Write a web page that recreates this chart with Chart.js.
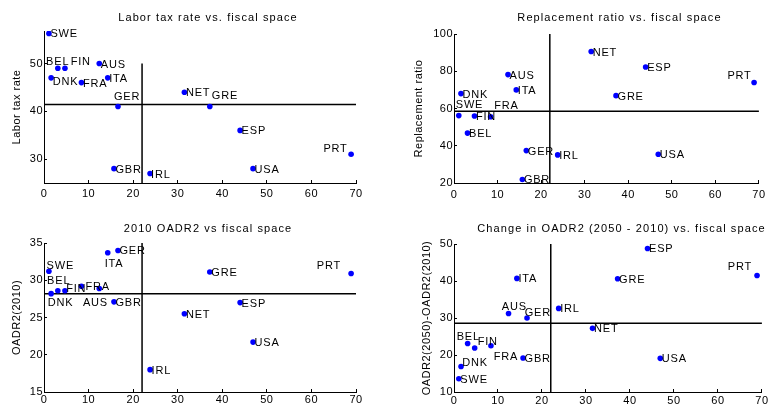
<!DOCTYPE html>
<html>
<head>
<meta charset="utf-8">
<script src="https://cdn.jsdelivr.net/npm/chart.js@4.4.0/dist/chart.umd.min.js"></script>
<style>
  body { margin: 0; background: #fff; }
  .wrap { position: relative; width: 773px; height: 409px; }
  canvas { position: absolute; }
</style>
</head>
<body>
<div class="wrap">
  <canvas id="c1" width="386" height="205" style="left:0;top:0"></canvas>
  <canvas id="c2" width="387" height="205" style="left:386px;top:0"></canvas>
  <canvas id="c3" width="386" height="204" style="left:0;top:205px"></canvas>
  <canvas id="c4" width="387" height="204" style="left:386px;top:205px"></canvas>
</div>
<script>
// data
const countries   = ['SWE', 'BEL', 'FIN', 'AUS', 'DNK', 'FRA', 'ITA', 'GER', 'NET', 'GRE', 'ESP', 'PRT', 'GBR', 'IRL', 'USA'];
const fiscalSpace = [1.1, 3.1, 4.7, 12.4, 1.6, 8.4, 14.3, 16.6, 31.5, 37.2, 44.0, 68.9, 15.7, 23.8, 46.9];
const laborTax    = [56.3, 49, 49, 50, 47, 46, 47, 41, 44, 41, 36, 31, 28, 27, 28];
const replacement = [56.2, 46.8, 56, 78.2, 68, 55.6, 70, 37.4, 90.6, 66.9, 82.3, 74, 21.9, 35.1, 35.4];
const oadr2010    = [31.2, 28.6, 28.6, 28.9, 28.2, 29.2, 33.7, 34.0, 25.5, 31.1, 27.0, 30.9, 27.1, 18.0, 21.7];
const oadrChange  = [13.6, 23.1, 21.9, 31.2, 16.9, 22.5, 40.7, 30.0, 27.2, 40.6, 48.8, 41.5, 19.2, 32.6, 19.1];

// reference lines (averages)
const fiscalMean = 22.0;
const laborMean = 41.4;
const replacementMean = 58.5;
const oadr2010Mean = 28.2;
const oadrChangeMean = 28.6;

// ticks
const xTicks = [0, 10, 20, 30, 40, 50, 60, 70];
const laborTicks = [30, 40, 50];
const replacementTicks = [20, 40, 60, 80, 100];
const oadr2010Ticks = [15, 20, 25, 30, 35];
const oadrChangeTicks = [10, 20, 30, 40, 50];

const FONT = '"Liberation Sans", Arial, sans-serif';
Chart.defaults.font.family = FONT;
Chart.defaults.font.size = 11;
Chart.defaults.color = '#000';

function labelPlugin(p) {
  return {
    id: 'panelText',
    beforeDraw(chart) {
      chart.ctx.letterSpacing = '0.5px';
    },
    afterDatasetsDraw(chart) {
      const ctx = chart.ctx;
      const meta = chart.getDatasetMeta(0);
      ctx.save();
      ctx.font = '11px ' + FONT;
      ctx.fillStyle = '#000';
      ctx.textAlign = 'left';
      ctx.textBaseline = 'middle';
      ctx.letterSpacing = '0.8px';
      meta.data.forEach((pt, i) => {
        const off = p.offsets[countries[i]] || [1.5, 1];
        ctx.fillText(countries[i], pt.x + off[0], pt.y + off[1]);
      });
      ctx.letterSpacing = '1.1px';
      ctx.textAlign = 'center';
      ctx.fillText(p.title, p.titleX, p.titleY);
      ctx.restore();
    }
  };
}

function makeChart(p) {
  const axisGrid = { drawOnChartArea: false, drawTicks: true, tickLength: -3, color: '#000', lineWidth: 1 };
  const axisBorder = { display: true, color: '#000', width: 1 };
  new Chart(document.getElementById(p.id), {
    type: 'scatter',
    data: {
      datasets: [
        {
          data: countries.map((c, i) => ({ x: fiscalSpace[i], y: p.values[i] })),
          pointRadius: 2.8,
          pointHoverRadius: 2.8,
          backgroundColor: '#0000ff',
          borderWidth: 0
        },
        {
          data: [{ x: fiscalMean, y: p.yMin }, { x: fiscalMean, y: p.vTop }],
          showLine: true, pointRadius: 0, borderColor: '#000', borderWidth: 1.5
        },
        {
          data: [{ x: 0, y: p.hLine }, { x: 70, y: p.hLine }],
          showLine: true, pointRadius: 0, borderColor: '#000', borderWidth: 1.5
        }
      ]
    },
    options: {
      responsive: false,
      animation: false,
      events: [],
      layout: { padding: { left: 0, right: p.padR, top: p.padT, bottom: 0 } },
      plugins: { legend: { display: false }, tooltip: { enabled: false } },
      scales: {
        x: {
          type: 'linear', min: 0, max: 70,
          afterBuildTicks: s => { s.ticks = xTicks.map(v => ({ value: v })); },
          afterFit: s => { s.height = p.xH; },
          grid: axisGrid, border: axisBorder,
          ticks: { padding: p.xPad, color: '#000' }
        },
        y: {
          type: 'linear', min: p.yMin, max: p.yMax,
          afterBuildTicks: s => { s.ticks = p.yTicks.map(v => ({ value: v })); },
          afterFit: s => { s.width = p.yW; },
          grid: axisGrid, border: axisBorder,
          ticks: { padding: 4, color: '#000' },
          title: {
            display: true, text: p.yTitle, color: '#000',
            font: { size: 11, lineHeight: 1 },
            padding: { top: p.yTitlePad, bottom: 0 }
          }
        }
      }
    },
    plugins: [labelPlugin(p)]
  });
}

makeChart({
  id: 'c1', title: 'Labor tax rate vs. fiscal space', titleX: 208, titleY: 18,
  yTitle: 'Labor tax rate', values: laborTax, yTicks: laborTicks,
  yMin: 25, yMax: 56.8, vTop: 50, hLine: laborMean,
  yW: 44, padR: 30, padT: 31, xH: 22, xPad: 7, yTitlePad: 11.8,
  offsets: { BEL: [-11.7, -6], FIN: [5.7, -6], DNK: [1.7, 4.3], GER: [-4, -9.3], GRE: [2, -10.3], PRT: [-27.7, -5.3], IRL: [1, 1.3] }
});

makeChart({
  id: 'c2', title: 'Replacement ratio vs. fiscal space', titleX: 233.5, titleY: 18,
  yTitle: 'Replacement ratio', values: replacement, yTicks: replacementTicks,
  yMin: 20, yMax: 100, vTop: 100, hLine: replacementMean,
  yW: 68, padR: 7, padT: 34, xH: 22, xPad: 8, yTitlePad: 27.8,
  offsets: { PRT: [-26.7, -6.3], SWE: [-3, -10.3], FRA: [3.7, -10.7] }
});

makeChart({
  id: 'c3', title: '2010 OADR2 vs fiscal space', titleX: 208, titleY: 24,
  yTitle: 'OADR2(2010)', values: oadr2010, yTicks: oadr2010Ticks,
  yMin: 15, yMax: 35, vTop: 35, hLine: oadr2010Mean,
  yW: 44, padR: 30, padT: 38, xH: 17, xPad: 4, yTitlePad: 11.8,
  offsets: { ITA: [-3, 11], SWE: [-2.3, -5], PRT: [-34.3, -7.7], BEL: [-10.7, -9.7], FIN: [1.3, -1.7], FRA: [4, 1], AUS: [-16.3, 14.3], DNK: [-3.3, 9] }
});

makeChart({
  id: 'c4', title: 'Change in OADR2 (2050 - 2010) vs. fiscal space', titleX: 235.5, titleY: 24,
  yTitle: 'OADR2(2050)-OADR2(2010)', values: oadrChange, yTicks: oadrChangeTicks,
  yMin: 10, yMax: 50, vTop: 50, hLine: oadrChangeMean,
  yW: 68, padR: 7, padT: 39, xH: 17, xPad: 5, yTitlePad: 35.2,
  offsets: { PRT: [-29.3, -8], AUS: [-6.7, -7], GER: [-2.3, -5.3], BEL: [-11, -6.3], FIN: [3, -6], FRA: [2.7, 11], DNK: [1.3, -4] }
});
</script>
</body>
</html>
